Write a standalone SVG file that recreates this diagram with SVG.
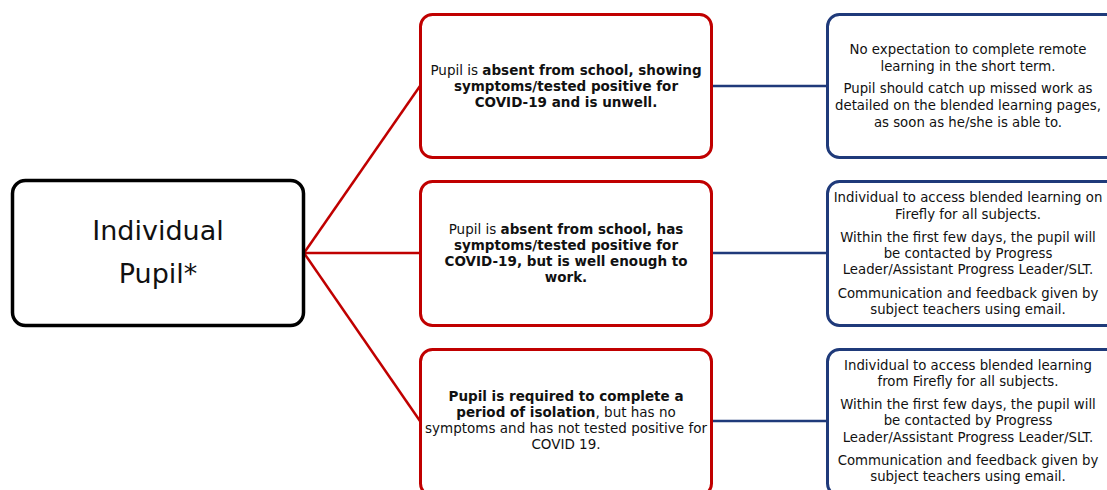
<svg xmlns="http://www.w3.org/2000/svg" width="1107" height="490" viewBox="0 0 1107 490">
<style>
.root{fill:#fff;stroke:#000;stroke-width:3.5}
.red{fill:#fff;stroke:#c00000;stroke-width:3}
.blue{fill:#fff;stroke:#1f3a7a;stroke-width:3}
.t{font-family:"DejaVu Sans",Verdana,sans-serif;font-size:13.5px;fill:#111;text-anchor:middle}
.tb{font-size:13.3px}
.b{font-weight:bold}
.big{font-family:"DejaVu Sans",Verdana,sans-serif;font-size:27px;fill:#111;text-anchor:middle}
.cr{stroke:#c00000;stroke-width:2.5;fill:none}
.cb{stroke:#1f3a7a;stroke-width:2.5;fill:none}
</style>
<rect width="1107" height="490" fill="#fff"/>
<g id="connectors">
<line class="cr" x1="304" y1="253" x2="420" y2="86"/>
<line class="cr" x1="304" y1="253" x2="420" y2="253"/>
<line class="cr" x1="304" y1="253" x2="420" y2="421"/>
<line class="cb" x1="712" y1="86" x2="827" y2="86"/>
<line class="cb" x1="712" y1="253" x2="827" y2="253"/>
<line class="cb" x1="712" y1="421" x2="827" y2="421"/>
</g>
<g id="root">
<rect class="root" x="12.5" y="180.5" width="291" height="145" rx="13"/>
<text class="big" x="158" y="240">Individual</text>
<text class="big" x="158" y="283">Pupil*</text>
</g>
<g id="case1">
<rect class="red" x="420.5" y="14.5" width="291" height="143" rx="12"/>
<text class="t" x="566" y="75">Pupil is <tspan class="b">absent from school, showing</tspan></text>
<text class="t b" x="566" y="91">symptoms/tested positive for</text>
<text class="t b" x="566" y="107">COVID-19 and is unwell.</text>
</g>
<g id="case2">
<rect class="red" x="420.5" y="181.5" width="291" height="144" rx="12"/>
<text class="t" x="566" y="234">Pupil is <tspan class="b">absent from school, has</tspan></text>
<text class="t b" x="566" y="250">symptoms/tested positive for</text>
<text class="t b" x="566" y="266">COVID-19, but is well enough to</text>
<text class="t b" x="566" y="282">work.</text>
</g>
<g id="case3">
<rect class="red" x="420.5" y="349.5" width="291" height="146" rx="12"/>
<text class="t b" x="566" y="401">Pupil is required to complete a</text>
<text class="t" x="566" y="417"><tspan class="b">period of isolation</tspan>, but has no</text>
<text class="t" x="566" y="433">symptoms and has not tested positive for</text>
<text class="t" x="566" y="449">COVID 19.</text>
</g>
<g id="action1">
<rect class="blue" x="827.5" y="14.5" width="300" height="143" rx="12"/>
<text class="t tb" x="968" y="54">No expectation to complete remote</text>
<text class="t tb" x="968" y="71">learning in the short term.</text>
<text class="t tb" x="968" y="93">Pupil should catch up missed work as</text>
<text class="t tb" x="968" y="110">detailed on the blended learning pages,</text>
<text class="t tb" x="968" y="127">as soon as he/she is able to.</text>
</g>
<g id="action2">
<rect class="blue" x="827.5" y="181.5" width="300" height="144" rx="12"/>
<text class="t tb" x="968" y="202">Individual to access blended learning on</text>
<text class="t tb" x="968" y="219">Firefly for all subjects.</text>
<text class="t tb" x="968" y="242">Within the first few days, the pupil will</text>
<text class="t tb" x="968" y="258">be contacted by Progress</text>
<text class="t tb" x="968" y="274">Leader/Assistant Progress Leader/SLT.</text>
<text class="t tb" x="968" y="298">Communication and feedback given by</text>
<text class="t tb" x="968" y="314">subject teachers using email.</text>
</g>
<g id="action3">
<rect class="blue" x="827.5" y="349.5" width="300" height="146" rx="12"/>
<text class="t tb" x="968" y="370">Individual to access blended learning</text>
<text class="t tb" x="968" y="386">from Firefly for all subjects.</text>
<text class="t tb" x="968" y="409">Within the first few days, the pupil will</text>
<text class="t tb" x="968" y="425">be contacted by Progress</text>
<text class="t tb" x="968" y="442">Leader/Assistant Progress Leader/SLT.</text>
<text class="t tb" x="968" y="465">Communication and feedback given by</text>
<text class="t tb" x="968" y="481">subject teachers using email.</text>
</g>
</svg>
